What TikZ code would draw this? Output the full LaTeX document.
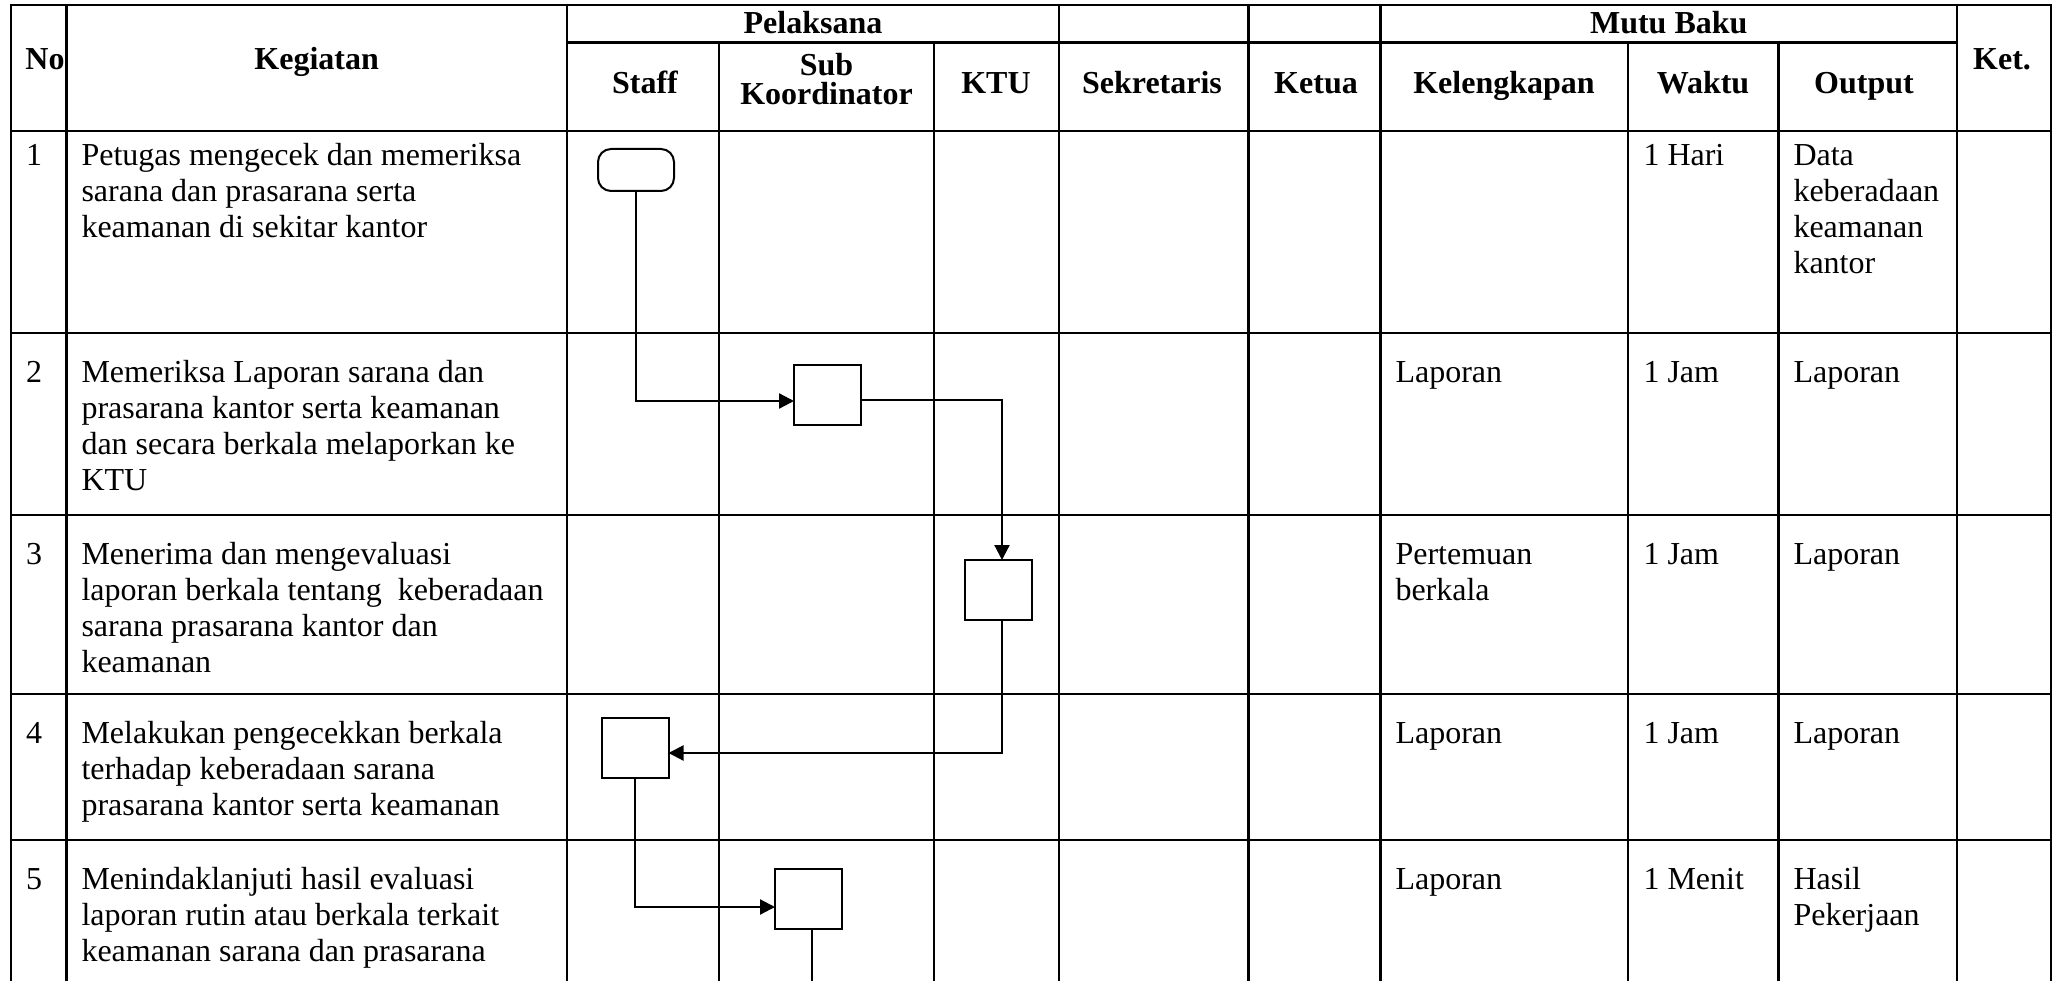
\documentclass[tikz,border=0pt]{standalone}
\usepackage{fontspec}
\setmainfont{Liberation Serif}
\usetikzlibrary{arrows.meta,calc}
\begin{document}
\begin{tikzpicture}[x=1pt,y=-1pt,
  grid/.style={line width=2.5pt, line cap=rect},
  body/.style={anchor=north west, inner sep=0pt, outer sep=0pt, align=left, font=\fontsize{32}{36}\selectfont},
  head/.style={anchor=base, inner sep=0pt, outer sep=0pt, align=center, font=\fontsize{32}{36}\selectfont\bfseries},
  stepbox/.style={draw, line width=2pt, minimum width=67pt, minimum height=60pt, inner sep=0pt, outer sep=0pt},
  termbox/.style={draw, line width=2pt, rounded corners=13pt, minimum width=76pt, minimum height=42pt, inner sep=0pt, outer sep=0pt},
  conn/.style={line width=2.2pt},
  arr/.style={conn, -{Triangle[length=15pt,width=15pt]}}
]
\useasboundingbox (0,0) rectangle (2055,981);
\fill[white] (0,0) rectangle (2055,981);

% grid
\draw[grid] (11,5) -- (2051,5);
\draw[grid] (567,42.7) -- (1957,42.7);
\foreach \yy in {131,333,515,694,840} \draw[grid] (11,\yy) -- (2051,\yy);
\foreach \xx in {11,66.5,567,1059,1248.5,1380.5,1957,2051} \draw[grid] (\xx,5) -- (\xx,985);
\foreach \xx in {719,934,1628,1778.5} \draw[grid] (\xx,42.7) -- (\xx,985);

% header
\node[head] (hNo) at (45,70) {No};
\node[head] (hKeg) at (316.7,70) {Kegiatan};
\node[head] (hPel) at (813,34) {Pelaksana};
\node[head] (hMutu) at (1668.75,34) {Mutu Baku};
\node[head] (hKet) at (2002,70) {Ket.};
\node[head] (hStaff) at (645,93.3) {Staff};
\node[head, anchor=north, font=\fontsize{32}{29}\selectfont\bfseries] (hSub) at (826.5,53.8) {Sub\\Koordinator};
\node[head] (hKTU) at (996,93.3) {KTU};
\node[head] (hSek) at (1152,93.3) {Sekretaris};
\node[head] (hKetua) at (1316,93.3) {Ketua};
\node[head] (hKel) at (1504,93.3) {Kelengkapan};
\node[head] (hWak) at (1703,93.3) {Waktu};
\node[head] (hOut) at (1864,93.3) {Output};

% row 1
\node[body] (n1) at (26,140.8) {\strut 1};
\node[body] (k1) at (81.5,140.8) {\strut Petugas mengecek dan memeriksa\\sarana dan prasarana serta\\keamanan di sekitar kantor};
\node[body] (w1) at (1643.5,140.8) {\strut 1 Hari};
\node[body] (o1) at (1793.5,140.8) {\strut Data\\keberadaan\\keamanan\\kantor};

% row 2
\node[body] (n2) at (26,356.8) {\strut 2};
\node[body] (k2) at (81.5,356.8) {\strut Memeriksa Laporan sarana dan\\prasarana kantor serta keamanan\\dan secara berkala melaporkan ke\\KTU};
\node[body] (l2) at (1395.5,356.8) {\strut Laporan};
\node[body] (w2) at (1643.5,356.8) {\strut 1 Jam};
\node[body] (o2) at (1793.5,356.8) {\strut Laporan};

% row 3
\node[body] (n3) at (26,538.8) {\strut 3};
\node[body] (k3) at (81.5,538.8) {\strut Menerima dan mengevaluasi\\laporan berkala tentang\ \ keberadaan\\sarana prasarana kantor dan\\keamanan};
\node[body] (l3) at (1395.5,538.8) {\strut Pertemuan\\berkala};
\node[body] (w3) at (1643.5,538.8) {\strut 1 Jam};
\node[body] (o3) at (1793.5,538.8) {\strut Laporan};

% row 4
\node[body] (n4) at (26,717.8) {\strut 4};
\node[body] (k4) at (81.5,717.8) {\strut Melakukan pengecekkan berkala\\terhadap keberadaan sarana\\prasarana kantor serta keamanan};
\node[body] (l4) at (1395.5,717.8) {\strut Laporan};
\node[body] (w4) at (1643.5,717.8) {\strut 1 Jam};
\node[body] (o4) at (1793.5,717.8) {\strut Laporan};

% row 5
\node[body] (n5) at (26,863.8) {\strut 5};
\node[body] (k5) at (81.5,863.8) {\strut Menindaklanjuti hasil evaluasi\\laporan rutin atau berkala terkait\\keamanan sarana dan prasarana};
\node[body] (l5) at (1395.5,863.8) {\strut Laporan};
\node[body] (w5) at (1643.5,863.8) {\strut 1 Menit};
\node[body] (o5) at (1793.5,863.8) {\strut Hasil\\Pekerjaan};

% flow shapes
\node[termbox] (t1) at (636,170) {};
\node[stepbox] (b2) at (827.5,395) {};
\node[stepbox] (b3) at (998,590) {};
\node[stepbox] (b4) at (635,748) {};
\node[stepbox] (b5) at (808.5,899) {};

% connectors
\draw[arr] (t1.south) |- ([yshift=-6pt]b2.west);
\draw[arr] ([yshift=-5pt]b2.east) -| ([xshift=4pt]b3.north);
\draw[arr] ([xshift=4pt]b3.south) |- ([yshift=-5pt]b4.east);
\draw[arr] (b4.south) |- ([yshift=-8pt]b5.west);
\coordinate (bend) at (812,985);
\draw[conn] ([xshift=3.5pt]b5.south) -- (bend);
\end{tikzpicture}
\end{document}
